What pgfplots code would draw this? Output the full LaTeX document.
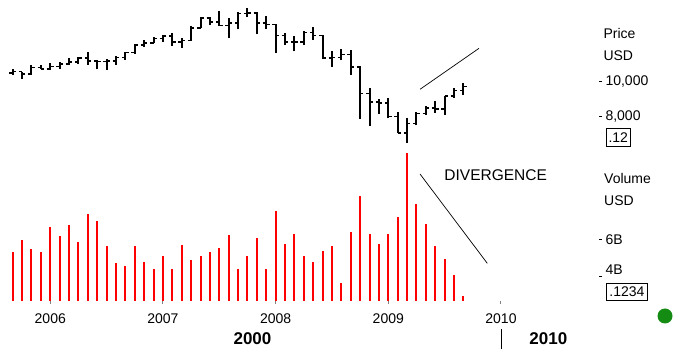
\documentclass[border=0pt]{standalone}
\usepackage{pgfplots}
\pgfplotsset{compat=1.18}
\usepackage{pgfplotstable}
\usepackage{fontspec}
\setmainfont{Liberation Sans}
\definecolor{dotgreen}{RGB}{20,140,20}

\pgfdeclareplotmark{openL}{\pgfpathmoveto{\pgfpoint{-3.3pt}{0pt}}\pgfpathlineto{\pgfpoint{0pt}{0pt}}\pgfusepathqstroke}
\pgfdeclareplotmark{closeR}{\pgfpathmoveto{\pgfpoint{0pt}{0pt}}\pgfpathlineto{\pgfpoint{3.3pt}{0pt}}\pgfusepathqstroke}

\pgfplotstableread{
i o h l c
0 10481 10719 10378 10569
1 10569 10569 10156 10440
2 10440 10931 10406 10806
3 10806 10940 10712 10718
4 10718 11044 10661 10865
5 10865 11137 10730 10993
6 10993 11335 10942 11109
7 11109 11408 10993 11367
8 11367 11709 10960 11168
9 11168 11247 10699 11150
10 11150 11300 10683 11186
11 11186 11466 10960 11381
12 11381 11718 11265 11679
13 11679 12167 11600 12081
14 12081 12361 11986 12222
15 12222 12529 12194 12463
16 12463 12650 12288 12622
17 12622 12795 12050 12269
18 12269 12484 11939 12354
19 12354 13214 12354 13063
20 13063 13693 13063 13628
21 13628 13692 13221 13409
22 13409 14022 13183 13212
23 13212 13657 12518 13358
24 13358 14001 12990 13896
25 13896 14198 13690 13930
26 13930 13960 12724 13372
27 13372 13767 13010 13265
28 13265 13280 11634 12650
29 12650 12767 12109 12266
30 12266 12624 11731 12263
31 12263 12876 12093 12820
32 12820 13136 12396 12638
33 12638 12657 11288 11350
34 11350 11750 10827 11378
35 11378 11867 11210 11544
36 11544 11790 10365 10851
37 10851 10882 7882 9325
38 9325 9654 7449 8829
39 8829 9026 8149 8776
40 8776 9088 7909 8001
41 8001 8280 7050 7063
42 7063 7925 6470 7609
43 7609 8273 7490 8168
44 8168 8588 8087 8500
45 8500 8878 8221 8447
46 8447 9172 8087 9172
47 9172 9630 9065 9496
48 9496 9917 9253 9712
}\ohlc

\pgfplotstableread{
i v
0 5.34
1 5.95
2 5.48
3 5.34
4 6.67
5 6.16
6 6.75
7 5.86
8 7.36
9 6.98
10 5.63
11 4.72
12 4.58
13 5.63
14 4.79
15 4.42
16 5.11
17 4.42
18 5.70
19 4.88
20 5.11
21 5.32
22 5.55
23 6.23
24 4.42
25 5.11
26 6.07
27 4.42
28 7.51
29 5.77
30 6.30
31 5.11
32 4.79
33 5.39
34 5.63
35 3.67
36 6.39
37 8.33
38 6.30
39 5.77
40 6.30
41 7.21
42 10.59
43 7.88
44 6.82
45 5.63
46 4.96
47 4.11
48 2.99
}\vol

\begin{document}
\begin{tikzpicture}[x=1pt,y=1pt,font=\fontsize{14}{16}\selectfont]
\path[use as bounding box] (0,0) rectangle (673,356);
% Price panel
\begin{axis}[
  at={(0pt,206pt)}, anchor=south west, scale only axis,
  width=598.5pt, height=150pt,
  xmin=-1.3525, xmax=62.385, ymin=6081, ymax=14676,
  axis x line*=bottom, axis y line*=right, axis line style={draw=none},
  scaled y ticks=false,
  xtick=\empty, ytick={8000,10000}, yticklabels={{8,000},{10,000}},
  tick align=outside, major tick length=3.5pt,
  ytick style={black, line width=0.8pt},
  yticklabel style={font=\fontsize{14}{16}\selectfont},
]
\addplot[draw=none, mark=none, forget plot,
  error bars/.cd, y dir=plus, y explicit, error mark=none,
  error bar style={draw=black, line width=2pt}]
  table[x=i, y=l, y error expr=\thisrow{h}-\thisrow{l}] {\ohlc};
\addplot[only marks, mark=openL, mark options={line width=1.6pt, black}] table[x=i, y=o] {\ohlc};
\addplot[only marks, mark=closeR, mark options={line width=1.6pt, black}] table[x=i, y=c] {\ohlc};
\addplot[black, line width=0.7pt, mark=none] coordinates {(43.38,9559) (49.66,11908)};
\end{axis}
% Volume panel
\begin{axis}[
  at={(0pt,55pt)}, anchor=south west, scale only axis,
  width=598.5pt, height=151pt,
  xmin=-1.3525, xmax=62.385, ymin=2.709, ymax=10.763,
  axis x line*=bottom, axis y line*=right, axis line style={draw=none},
  xtick={4,16,28,40,52}, xticklabels={2006,2007,2008,2009,2010},
  ytick={4,6}, yticklabels={{\raisebox{2.5pt}[0pt][0pt]{4B}},{6B}},
  tick align=outside, major tick length=3.5pt,
  ytick style={black, line width=0.8pt},
  xtick style={gray, line width=1pt},
  ticklabel style={font=\fontsize{14}{16}\selectfont},
  xticklabel style={yshift=-6pt},
]
\addplot[ycomb, color={rgb,255:red,255;green,0;blue,0}, line width=2pt, mark=none] table[x=i, y=v] {\vol};
\addplot[black, line width=0.7pt, mark=none] coordinates {(43.38,9.48) (50.54,4.72)};
\end{axis}
% annotations
\node[font=\fontsize{15.5}{18}\selectfont] at (495.7,181) {DIVERGENCE};
\node[anchor=west, inner sep=0pt] at (603.3,322.7) {Price};
\node[anchor=west, inner sep=0pt] at (603.3,300) {USD};
\node[anchor=west, inner sep=0pt] at (604,177.7) {Volume};
\node[anchor=west, inner sep=0pt] at (604,155.3) {USD};
\draw[line width=0.8pt] (606.7,227.7) rectangle (630,209.3);
\node at (618.3,218.5) {.12};
\draw[line width=0.8pt] (606.7,72.7) rectangle (647.3,55.3);
\node at (627,64) {.1234};
\node[font=\fontsize{17}{20}\selectfont\bfseries] at (252.5,17.7) {2000};
\node[font=\fontsize{17}{20}\selectfont\bfseries] at (548.3,17.7) {2010};
\draw[line width=1pt] (501.7,26.7) -- (501.7,6.7);
\fill[dotgreen] (665,40) circle (7.5);
\end{tikzpicture}
\end{document}
